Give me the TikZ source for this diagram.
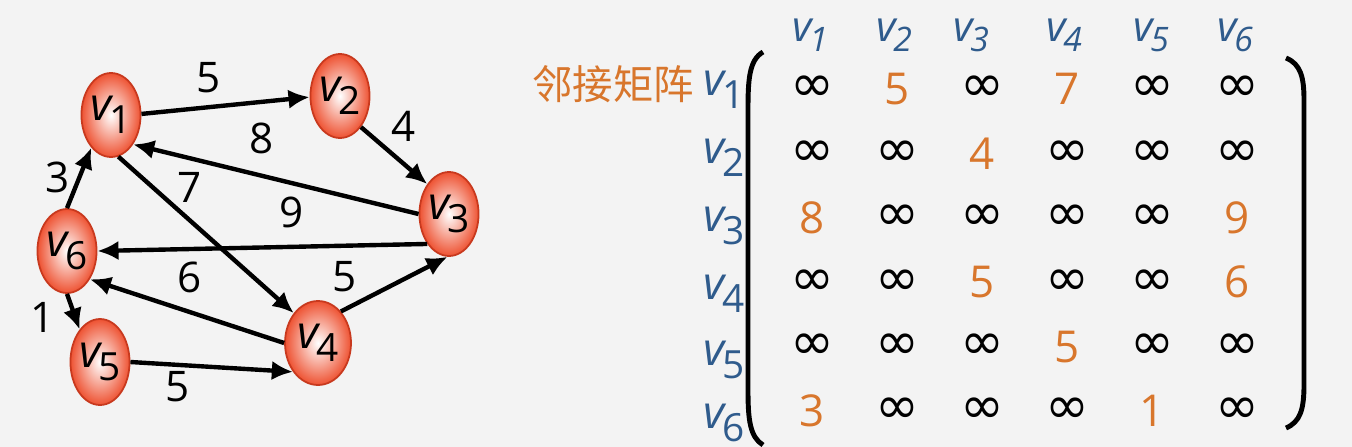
\documentclass[tikz,border=0pt]{standalone}
\usepackage{fontspec}
\setmainfont{Open Sans}
\newfontfamily\cjk{Noto Sans CJK SC}
\newfontfamily\symf{DejaVu Sans}
\usetikzlibrary{arrows.meta,shapes.geometric}
\definecolor{bgcol}{HTML}{F3F3F3}
\definecolor{ballred}{HTML}{EE5232}
\definecolor{ballrim}{HTML}{C8391E}
\definecolor{wtorange}{HTML}{D8762C}
\definecolor{lblblue}{HTML}{2F5B8C}
\newcommand{\vsub}[1]{\textit{v}\kern-0.08em\raisebox{-0.55ex}{\scalebox{0.85}{#1}}}
\newcommand{\vhead}[1]{\textit{v\kern-0.05em\raisebox{-0.45ex}{\scalebox{0.8}{#1}}}}

\begin{document}
\begin{tikzpicture}[x=0.1mm, y=-0.1mm,
      vert/.style={ellipse, draw=ballrim, line width=0.5pt, inner sep=0pt,
        minimum width=5.8mm, minimum height=8.4mm,
        inner color=white, outer color=ballred,
        font=\fontsize{13}{15}\selectfont},
      arc/.style={-{Latex[length=6pt, width=5.5pt]}, line width=1.25pt, black},
      wt/.style={font=\fontsize{12}{14}\selectfont, inner sep=1pt},
      cell/.style={font=\fontsize{12.5}{14}\selectfont, inner sep=1pt},
      rowlbl/.style={text=lblblue, font=\fontsize{13}{15}\selectfont, inner sep=1pt},
      collbl/.style={text=lblblue, font=\fontsize{12}{14}\selectfont, inner sep=1pt},
    ]
    \useasboundingbox (0,0) rectangle (1352,447);
    \fill[bgcol] (0,0) rectangle (1352,447);

    % graph
    \node[vert] (v1) at (111, 115) {\vsub{1}};
    \node[vert] (v2) at (340,  96) {\vsub{2}};
    \node[vert] (v3) at (449, 214) {\vsub{3}};
    \node[vert, minimum width=6.6mm] (v4) at (318, 343) {\vsub{4}};
    \node[vert, minimum width=5.4mm, minimum height=8.6mm] (v5) at (100, 362) {\vsub{5}};
    \node[vert] (v6) at (67, 251) {\vsub{6}};

    \draw[arc] (v1.2) -- (v2.182);
    \draw[arc] (v2.-56) -- (v3.126);
    \draw[arc] (v3.180) -- (v1.-53);
    \draw[arc] (v1.-80) -- (v4.129);
    \draw[arc] (v3.-126) -- (v6.0);
    \draw[arc] (v4.54) -- (v3.-92);
    \draw[arc] (v4.180) -- (v6.-51);
    \draw[arc] (v6.90) -- (v1.-121);
    \draw[arc] (v6.-90) -- (v5.122);
    \draw[arc] (v5.0) -- (v4.-131);

    \node[wt] (w12) at (209,  78) {5};
    \node[wt] (w23) at (404, 126) {4};
    \node[wt] (w31) at (262, 138) {8};
    \node[wt] (w14) at (190, 187) {7};
    \node[wt] (w36) at (292, 212) {9};
    \node[wt] (w43) at (345, 277) {5};
    \node[wt] (w46) at (190, 277) {6};
    \node[wt] (w61) at ( 58, 177) {3};
    \node[wt] (w65) at ( 43, 317) {1};
    \node[wt] (w54) at (178, 387) {5};

    % matrix
    \node[text=wtorange, font=\cjk\fontsize{11.5}{13}\selectfont] (title) at (613, 84) {邻接矩阵};
    \foreach \x/\n in {810/1, 894/2, 971/3, 1064/4, 1151/5, 1235/6}
      \node[collbl] (c\n) at (\x, 35) {\vhead{\n}};
    \foreach \y/\n in {90/1, 158/2, 226/3, 294/4, 360/5, 423/6}
      \node[rowlbl] (r\n) at (724, \y) {\vsub{\n}};
    \foreach \row [count=\i] in {{0,5,0,7,0,0}, {0,0,4,0,0,0}, {8,0,0,0,0,9},
                                 {0,0,5,0,0,6}, {0,0,0,5,0,0}, {3,0,0,0,1,0}}
      \foreach \e [count=\j] in \row
        \node[cell] (m\i\j) at ({812+85*(\j-1)}, {89+64.4*(\i-1)})
          {\ifnum\e=0 {\symf\fontsize{15}{16}\selectfont ∞}\else\textcolor{wtorange}{\e}\fi};

    \draw[line width=1.4pt] (763,52) .. controls (749,60) and (748,80) .. (748,110)
      -- (748,390) .. controls (748,420) and (750,437) .. (763,445);
    \draw[line width=1.4pt] (1286,58) .. controls (1301,64) and (1304,78) .. (1304,100)
      -- (1304,385) .. controls (1304,410) and (1300,422) .. (1286,428);
  \end{tikzpicture}
\end{document}
